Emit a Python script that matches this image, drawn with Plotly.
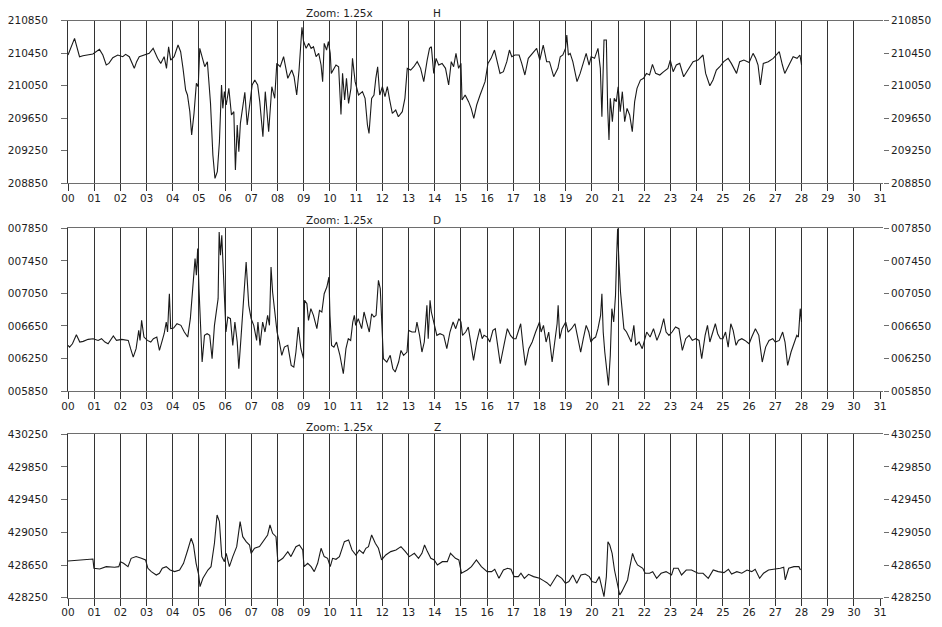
import plotly.graph_objects as go

# ---------------- data (day of month, value) ----------------
H_points = [(0.0,210428),(0.25,210633),(0.44,210407),(0.57,210419),(0.95,210440),(1.2,210497),(1.33,210428),(1.46,210305),(1.56,210325),(1.71,210395),(1.9,210428),(2.09,210407),(2.2,210436),(2.34,210407),(2.53,210264),(2.62,210346),(2.72,210407),(2.91,210428),(3.1,210448),(3.25,210510),(3.42,210387),(3.54,210325),(3.67,210407),(3.76,210264),(3.84,210530),(3.92,210366),(4.05,210407),(4.2,210551),(4.3,210469),(4.39,210264),(4.49,209997),(4.56,209936),(4.65,209731),(4.72,209444),(4.81,209710),(4.9,210079),(4.97,210038),(5.03,210510),(5.13,210407),(5.22,210284),(5.32,210346),(5.44,209833),(5.53,209198),(5.61,208911),(5.7,208993),(5.78,209362),(5.86,210059),(5.91,209772),(5.97,209977),(6.04,209813),(6.14,210018),(6.24,209690),(6.33,209731),(6.39,209013),(6.46,209567),(6.52,209239),(6.58,209587),(6.67,209772),(6.75,209968),(6.84,209567),(6.94,209854),(7.03,210059),(7.13,210120),(7.24,210059),(7.32,209854),(7.44,209423),(7.53,209977),(7.66,209485),(7.78,210038),(7.89,209895),(7.97,210325),(8.1,210284),(8.23,210407),(8.39,210141),(8.54,210243),(8.63,210161),(8.73,209936),(8.82,210243),(8.93,210770),(8.99,210600),(9.09,210510),(9.19,210571),(9.28,210510),(9.37,210530),(9.47,210407),(9.57,210448),(9.66,210305),(9.72,210100),(9.78,210571),(9.87,210489),(9.94,210592),(10.01,210448),(10.05,210202),(10.23,210305),(10.33,210284),(10.42,209698),(10.48,210202),(10.56,209874),(10.63,210141),(10.71,209833),(10.8,210018),(10.86,210387),(10.96,210100),(11.09,209936),(11.24,209977),(11.34,209895),(11.43,209567),(11.49,209464),(11.59,209895),(11.68,209936),(11.75,210141),(11.82,210284),(11.9,209936),(12.0,210038),(12.1,209915),(12.19,210038),(12.28,209874),(12.38,209710),(12.51,209751),(12.61,209669),(12.76,209731),(12.86,209895),(12.95,210264),(13.08,210243),(13.2,210284),(13.33,210346),(13.46,210264),(13.58,210100),(13.71,210366),(13.8,210510),(13.87,210530),(13.96,210202),(14.05,210387),(14.15,210305),(14.28,210325),(14.41,210264),(14.53,210059),(14.63,210346),(14.72,210284),(14.81,210448),(14.91,210264),(15.0,210325),(15.04,209874),(15.16,209936),(15.29,209854),(15.39,209772),(15.49,209649),(15.6,209813),(15.73,209936),(15.84,210038),(15.92,210100),(16.03,210325),(16.15,210387),(16.28,210489),(16.38,210346),(16.49,210202),(16.62,210223),(16.75,210346),(16.85,210489),(16.94,210407),(17.06,210428),(17.22,210428),(17.32,210325),(17.44,210182),(17.57,210387),(17.76,210469),(17.89,210510),(18.01,210366),(18.14,210551),(18.27,210346),(18.38,210346),(18.54,210161),(18.7,210264),(18.79,210407),(18.89,210428),(18.99,210510),(19.04,210674),(19.1,210428),(19.17,210448),(19.27,210346),(19.43,210100),(19.55,210202),(19.68,210346),(19.78,210448),(19.89,210305),(19.97,210407),(20.1,210387),(20.23,210510),(20.32,210264),(20.38,209669),(20.46,210612),(20.55,210612),(20.6,209772),(20.65,209382),(20.7,209895),(20.78,209608),(20.85,209895),(20.93,209854),(21.0,210038),(21.08,209731),(21.16,209977),(21.25,209608),(21.34,209772),(21.44,209690),(21.54,209485),(21.63,209854),(21.72,210018),(21.85,210120),(21.97,210141),(22.08,210202),(22.2,210182),(22.31,210313),(22.43,210202),(22.59,210182),(22.74,210223),(22.9,210264),(22.99,210366),(23.1,210223),(23.22,210305),(23.35,210325),(23.5,210161),(23.67,210243),(23.86,210346),(24.05,210366),(24.24,210428),(24.34,210202),(24.5,210050),(24.62,210120),(24.75,210243),(24.88,210284),(25.03,210346),(25.2,210387),(25.32,210325),(25.52,210202),(25.64,210346),(25.8,210366),(26.0,210337),(26.15,210448),(26.25,210387),(26.34,210305),(26.43,210059),(26.54,210325),(26.73,210346),(26.92,210387),(27.15,210469),(27.27,210305),(27.36,210202),(27.55,210325),(27.68,210407),(27.83,210387),(27.94,210428),(28.0,210305)]

D_points = [(0.0,6411),(0.06,6390),(0.17,6431),(0.32,6542),(0.45,6452),(0.58,6460),(0.77,6485),(0.96,6493),(1.15,6472),(1.28,6493),(1.41,6452),(1.53,6431),(1.73,6526),(1.85,6472),(2.05,6485),(2.3,6472),(2.39,6370),(2.49,6267),(2.6,6370),(2.65,6493),(2.7,6595),(2.75,6472),(2.81,6718),(2.9,6513),(3.03,6472),(3.16,6452),(3.26,6493),(3.39,6513),(3.49,6349),(3.58,6452),(3.67,6554),(3.75,6698),(3.8,6575),(3.85,6923),(3.87,7046),(3.92,6616),(4.03,6624),(4.16,6677),(4.31,6657),(4.44,6575),(4.57,6513),(4.67,6739),(4.77,7210),(4.85,7477),(4.9,7272),(4.95,7600),(5.0,7108),(5.05,6780),(5.12,6206),(5.21,6534),(5.31,6554),(5.41,6534),(5.5,6247),(5.59,6657),(5.67,6821),(5.73,6985),(5.77,7805),(5.82,7518),(5.87,7764),(5.92,7436),(5.97,7067),(6.03,6575),(6.1,6759),(6.2,6739),(6.29,6411),(6.37,6698),(6.46,6452),(6.52,6124),(6.61,6534),(6.71,6985),(6.8,7436),(6.9,6903),(6.99,6739),(7.09,6657),(7.2,6472),(7.25,6698),(7.33,6411),(7.43,6698),(7.52,6575),(7.62,6780),(7.69,6657),(7.75,7374),(7.81,7067),(7.88,6862),(7.98,6575),(8.07,6452),(8.16,6288),(8.26,6390),(8.39,6411),(8.52,6165),(8.62,6144),(8.7,6329),(8.79,6636),(8.89,6370),(8.99,6247),(9.03,6964),(9.12,6923),(9.18,6718),(9.27,6862),(9.37,6780),(9.5,6616),(9.6,6841),(9.69,6821),(9.78,7046),(9.88,7128),(9.96,7251),(10.0,6780),(10.06,6411),(10.15,6390),(10.25,6452),(10.38,6288),(10.51,6062),(10.61,6370),(10.7,6493),(10.79,6472),(10.87,6698),(10.93,6780),(10.98,6657),(11.08,6739),(11.21,6616),(11.3,6821),(11.4,6698),(11.5,6575),(11.59,6800),(11.68,6759),(11.76,6780),(11.85,7210),(11.92,7108),(11.98,6657),(12.04,6247),(12.17,6206),(12.3,6288),(12.4,6124),(12.49,6083),(12.62,6206),(12.71,6349),(12.81,6288),(12.94,6329),(13.0,6595),(13.13,6575),(13.26,6575),(13.32,6698),(13.42,6534),(13.51,6329),(13.6,6452),(13.7,6903),(13.75,6493),(13.82,6964),(13.87,6821),(13.95,6698),(14.03,6616),(14.08,6534),(14.2,6554),(14.34,6534),(14.46,6370),(14.58,6575),(14.7,6698),(14.8,6616),(14.92,6739),(15.0,6698),(15.06,6534),(15.18,6575),(15.28,6636),(15.36,6493),(15.48,6226),(15.6,6452),(15.72,6616),(15.81,6493),(15.88,6534),(16.0,6513),(16.1,6452),(16.22,6595),(16.31,6616),(16.4,6411),(16.5,6185),(16.64,6411),(16.77,6616),(16.89,6534),(17.0,6493),(17.1,6493),(17.18,6575),(17.28,6677),(17.38,6370),(17.46,6165),(17.59,6370),(17.72,6452),(17.85,6575),(18.0,6698),(18.06,6575),(18.15,6657),(18.25,6452),(18.35,6575),(18.48,6206),(18.58,6452),(18.67,6677),(18.71,6903),(18.77,6493),(18.86,6616),(19.0,6698),(19.09,6575),(19.22,6616),(19.35,6677),(19.45,6534),(19.57,6329),(19.67,6493),(19.78,6657),(19.88,6575),(19.96,6452),(20.05,6493),(20.14,6513),(20.23,6616),(20.33,6780),(20.38,7046),(20.43,6575),(20.49,6329),(20.55,6124),(20.63,5919),(20.7,6288),(20.76,6862),(20.83,6698),(20.9,7026),(20.94,7477),(20.98,7846),(21.03,7436),(21.09,7067),(21.16,6821),(21.22,6616),(21.32,6575),(21.41,6513),(21.5,6452),(21.6,6657),(21.67,6411),(21.8,6452),(21.92,6370),(22.09,6575),(22.22,6513),(22.35,6616),(22.48,6472),(22.61,6575),(22.74,6739),(22.83,6575),(22.94,6534),(23.06,6575),(23.19,6636),(23.32,6616),(23.45,6349),(23.58,6493),(23.71,6534),(23.83,6472),(23.96,6493),(24.09,6472),(24.19,6247),(24.32,6534),(24.41,6657),(24.5,6452),(24.6,6554),(24.71,6677),(24.8,6554),(24.9,6493),(25.0,6493),(25.1,6575),(25.2,6390),(25.3,6677),(25.39,6595),(25.5,6411),(25.59,6472),(25.72,6493),(25.84,6472),(26.0,6431),(26.1,6513),(26.24,6616),(26.37,6534),(26.5,6206),(26.63,6390),(26.76,6472),(26.9,6493),(27.0,6452),(27.15,6472),(27.28,6575),(27.37,6452),(27.47,6165),(27.6,6329),(27.72,6452),(27.82,6534),(27.88,6513),(27.95,6862),(28.0,6698)]

Z_points = [(0.0,428700),(0.44,428712),(0.83,428720),(0.95,428724),(0.99,428610),(1.21,428602),(1.46,428630),(1.78,428622),(1.94,428630),(2.0,428691),(2.12,428671),(2.29,428630),(2.41,428732),(2.6,428753),(2.8,428732),(2.96,428712),(3.05,428610),(3.18,428569),(3.37,428528),(3.49,428549),(3.6,428610),(3.75,428630),(3.9,428589),(4.07,428569),(4.26,428589),(4.41,428671),(4.57,428834),(4.7,428977),(4.79,428895),(4.89,428671),(4.99,428528),(5.04,428385),(5.15,428487),(5.34,428589),(5.46,428630),(5.59,428916),(5.69,429263),(5.78,429181),(5.87,428753),(5.97,428691),(6.04,428793),(6.16,428630),(6.29,428753),(6.44,428875),(6.57,429181),(6.67,428997),(6.8,428936),(6.93,428895),(6.99,428793),(7.12,428855),(7.31,428875),(7.5,428957),(7.62,429018),(7.71,429140),(7.81,429038),(7.94,428997),(8.01,428691),(8.2,428732),(8.39,428814),(8.51,428753),(8.7,428875),(8.83,428895),(8.96,428834),(9.01,428630),(9.15,428671),(9.28,428630),(9.4,428569),(9.53,428671),(9.66,428855),(9.78,428753),(9.91,428732),(10.01,428630),(10.1,428732),(10.23,428720),(10.36,428753),(10.55,428936),(10.71,428957),(10.84,428834),(10.99,428773),(11.12,428834),(11.27,428793),(11.37,428855),(11.47,428875),(11.59,429018),(11.73,428916),(11.85,428855),(11.97,428712),(12.13,428773),(12.32,428814),(12.52,428834),(12.71,428875),(12.88,428814),(13.03,428753),(13.22,428793),(13.38,428732),(13.51,428793),(13.61,428895),(13.72,428814),(13.85,428732),(13.98,428712),(14.1,428651),(14.29,428691),(14.48,428691),(14.6,428793),(14.79,428732),(14.92,428712),(15.02,428549),(15.24,428589),(15.4,428630),(15.59,428712),(15.78,428630),(16.0,428569),(16.17,428569),(16.29,428598),(16.45,428487),(16.62,428589),(16.78,428610),(16.91,428598),(17.03,428508),(17.19,428508),(17.29,428549),(17.42,428487),(17.58,428536),(17.77,428508),(18.0,428487),(18.15,428459),(18.28,428434),(18.41,428394),(18.54,428467),(18.67,428528),(18.85,428487),(18.99,428426),(19.12,428447),(19.27,428528),(19.42,428426),(19.58,428528),(19.74,428540),(19.9,428508),(20.0,428447),(20.15,428434),(20.28,428508),(20.38,428385),(20.46,428263),(20.55,428508),(20.61,428936),(20.68,428895),(20.77,428793),(20.86,428589),(20.97,428426),(21.06,428283),(21.14,428324),(21.23,428385),(21.36,428467),(21.45,428630),(21.55,428793),(21.64,428712),(21.74,428651),(21.94,428610),(22.03,428549),(22.2,428549),(22.32,428569),(22.47,428487),(22.64,428549),(22.83,428569),(23.04,428528),(23.12,428610),(23.29,428610),(23.42,428528),(23.6,428589),(23.8,428589),(24.05,428549),(24.24,428549),(24.44,428487),(24.63,428589),(24.82,428569),(25.04,428557),(25.21,428598),(25.33,428540),(25.53,428569),(25.72,428549),(25.92,428589),(26.1,428569),(26.23,428598),(26.4,428487),(26.55,428549),(26.74,428589),(26.97,428598),(27.19,428610),(27.32,428622),(27.38,428467),(27.51,428610),(27.71,428630),(27.9,428630),(27.96,428589)]

day_ticks = list(range(32))
day_labels = ["%02d" % d for d in day_ticks]

H_ticks = [208850, 209250, 209650, 210050, 210450, 210850]
D_ticks = [5850, 6250, 6650, 7050, 7450, 7850]
D_labels = ["%06d" % v for v in D_ticks]
Z_ticks = [428250, 428650, 429050, 429450, 429850, 430250]

panel_names = ["H", "D", "Z"]
zoom_label = "Zoom: 1.25x"

# ---------------- figure ----------------
W, Hh = 942, 627
FONT = "DejaVu Sans"
TXT = "#1e1e1e"
GRID = "#333333"
AXL = "#6e6e6e"
fs = 10.5

def py(p):
    return 1 - p / Hh

x_dom = [68 / W, 883 / W]
panels_px = [(20.7, 183.3), (228.3, 391.0), (434.3, 597.7)]
series = [H_points, D_points, Z_points]
ticks = [(H_ticks, [str(v) for v in H_ticks]), (D_ticks, D_labels), (Z_ticks, [str(v) for v in Z_ticks])]
title_y = [13, 220, 427]

fig = go.Figure()
layout = dict(
    width=W, height=Hh,
    margin=dict(l=0, r=0, t=0, b=0),
    paper_bgcolor="white", plot_bgcolor="white",
    showlegend=False,
    font=dict(family=FONT, size=fs, color=TXT),
    annotations=[],
)

for i in range(3):
    n = i + 1
    xs = "" if n == 1 else str(n)
    ynL = str(n) if n > 1 else ""
    ynR = str(n + 3)
    days, vals = zip(*series[i])
    # invisible copy so that the right-hand value axis is rendered
    fig.add_trace(go.Scatter(x=list(days), y=list(vals), mode="lines",
                             line=dict(color="rgba(0,0,0,0)", width=1),
                             xaxis="x" + xs, yaxis="y" + ynR, hoverinfo="skip"))
    fig.add_trace(go.Scatter(x=list(days), y=list(vals), mode="lines",
                             line=dict(color="#1a1a1a", width=1.1),
                             xaxis="x" + xs, yaxis="y" + ynL, hoverinfo="skip"))
    top, bot = panels_px[i]
    tv, tt = ticks[i]
    yr = [tv[0], tv[-1]]
    layout["xaxis" + xs] = dict(
        domain=x_dom, anchor="y" + ynL, range=[0, 31.11],
        tickmode="array", tickvals=day_ticks, ticktext=day_labels,
        ticks="outside", ticklen=7, tickcolor=GRID, tickwidth=1,
        ticklabelstandoff=-2,
        showgrid=False, zeroline=False,
        showline=True, linecolor=AXL, linewidth=1, mirror=True,
        minor=dict(tickmode="array", tickvals=list(range(31)), showgrid=True,
                   gridcolor=GRID, gridwidth=1, ticks=""),
        tickfont=dict(family=FONT, size=fs, color=TXT),
        fixedrange=True, automargin=False,
    )
    layout["yaxis" + ynL] = dict(
        domain=[py(bot), py(top)], anchor="x" + xs, range=yr,
        tickmode="array", tickvals=tv, ticktext=tt,
        ticks="outside", ticklen=6, tickcolor=AXL,
        showgrid=False, zeroline=False,
        showline=True, linecolor=GRID, linewidth=1,
        ticklabelstandoff=11,
        tickfont=dict(family=FONT, size=fs, color=TXT),
        fixedrange=True, automargin=False,
    )
    layout["yaxis" + ynR] = dict(
        overlaying="y" + ynL, side="right", anchor="x" + xs, range=yr,
        tickmode="array", tickvals=tv, ticktext=tt,
        ticks="outside", ticklen=5, tickcolor=AXL,
        showgrid=False, zeroline=False, showline=False,
        tickfont=dict(family=FONT, size=fs, color=TXT),
        fixedrange=True, automargin=False,
    )
    layout["annotations"].append(dict(text=zoom_label, x=339 / W, y=py(title_y[i]),
                                      xref="paper", yref="paper", showarrow=False,
                                      xanchor="center", yanchor="middle",
                                      font=dict(family=FONT, size=fs, color=TXT)))
    layout["annotations"].append(dict(text=panel_names[i], x=437 / W, y=py(title_y[i]),
                                      xref="paper", yref="paper", showarrow=False,
                                      xanchor="center", yanchor="middle",
                                      font=dict(family=FONT, size=fs, color=TXT)))

fig.update_layout(**layout)
fig.write_html("out.html", config={"displayModeBar": False, "staticPlot": True},
               post_script="document.body.style.margin='0';document.body.style.padding='0';document.body.style.overflow='hidden';")
